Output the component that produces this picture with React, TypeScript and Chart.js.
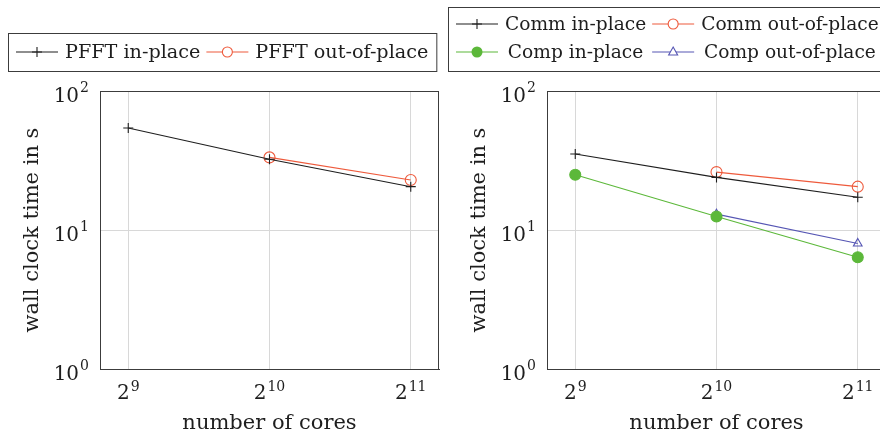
import React, { useEffect, useRef } from "react";
import { Chart, registerables } from "chart.js";

Chart.register(...registerables);

// ---------- data ----------
const coreCounts = [512, 1024, 2048];
const xTickBase = ["2", "2", "2"];
const xTickExp = ["9", "10", "11"];
const yTickValues = [1, 10, 100];
const yTickBase = ["10", "10", "10"];
const yTickExp = ["0", "1", "2"];

const pfftInPlace = [54.2, 32.3, 20.5];
const pfftOutOfPlace = [null, 33.3, 22.9];

const commInPlace = [35.2, 23.9, 17.2];
const commOutOfPlace = [null, 26.1, 20.5];
const compInPlace = [25.0, 12.5, 6.36];
const compOutOfPlace = [null, 13.0, 8.0];

const leftLabels = ["PFFT in-place", "PFFT out-of-place"];
const rightLabels = ["Comm in-place", "Comm out-of-place", "Comp in-place", "Comp out-of-place"];

// ---------- style ----------
const FONT = "'DejaVu Serif', serif";
const FS_TITLE = 21;
const FS_TICK = 20;
const FS_EXP = 14;
const BLACK = "#1e1e1e";
const RED = "#ee5a3c";
const GREEN = "#5cb83a";
const BLUE = "#5656b4";
const FRAME = "#3c3c3c";

type Marker = "cross" | "ring" | "dot" | "tri";

function toPoints(vals: (number | null)[]) {
  const pts: { x: number; y: number }[] = [];
  vals.forEach((v, i) => {
    if (v !== null) pts.push({ x: coreCounts[i], y: v });
  });
  return pts;
}

function makeDataset(label: string, vals: (number | null)[], color: string, marker: Marker) {
  const base: any = {
    label,
    data: toPoints(vals),
    borderColor: color,
    borderWidth: 1.1,
    pointBorderColor: color,
    pointBorderWidth: 1.1,
    marker,
  };
  if (marker === "cross") {
    base.pointStyle = "cross";
    base.pointRadius = 5;
    base.pointBackgroundColor = color;
  } else if (marker === "ring") {
    base.pointStyle = "circle";
    base.pointRadius = 5.5;
    base.pointBackgroundColor = "rgba(0,0,0,0)";
  } else if (marker === "dot") {
    base.pointStyle = "circle";
    base.pointRadius = 5.5;
    base.pointBackgroundColor = color;
  } else {
    base.pointStyle = "triangle";
    base.pointRadius = 5;
    base.pointBackgroundColor = "rgba(0,0,0,0)";
  }
  return base;
}

function drawMarker(ctx: CanvasRenderingContext2D, marker: Marker, x: number, y: number, color: string) {
  ctx.save();
  ctx.strokeStyle = color;
  ctx.fillStyle = color;
  ctx.lineWidth = 1.1;
  ctx.beginPath();
  if (marker === "cross") {
    ctx.moveTo(x - 5, y);
    ctx.lineTo(x + 5, y);
    ctx.moveTo(x, y - 5);
    ctx.lineTo(x, y + 5);
    ctx.stroke();
  } else if (marker === "ring") {
    ctx.fillStyle = "#ffffff";
    ctx.arc(x, y, 5, 0, Math.PI * 2);
    ctx.fill();
    ctx.stroke();
  } else if (marker === "dot") {
    ctx.arc(x, y, 5.5, 0, Math.PI * 2);
    ctx.fill();
  } else {
    ctx.fillStyle = "#ffffff";
    ctx.moveTo(x, y - 5);
    ctx.lineTo(x + 4.5, y + 3);
    ctx.lineTo(x - 4.5, y + 3);
    ctx.closePath();
    ctx.fill();
    ctx.stroke();
  }
  ctx.restore();
}

// legend in a framed box, drawn like a pgfplots legend
const boxLegend = {
  id: "boxLegend",
  afterDraw(chart: any) {
    const opts = chart.options.plugins.boxLegend;
    if (!opts) return;
    const ctx: CanvasRenderingContext2D = chart.ctx;
    const ds = chart.data.datasets;
    const rows: number[][] = opts.rows;
    const nCols = Math.max(...rows.map((r) => r.length));
    ctx.save();
    ctx.font = `${opts.fontSize}px ${FONT}`;
    const sample = 42;
    const gap = 7;
    const after = 6;
    const colW: number[] = [];
    for (let c = 0; c < nCols; c++) {
      let w = 0;
      rows.forEach((r) => {
        if (r[c] !== undefined) w = Math.max(w, ctx.measureText(ds[r[c]].label).width);
      });
      colW.push(w);
    }
    const pad = 8;
    let total = pad;
    colW.forEach((w, i) => {
      total += sample + gap + w + (i < nCols - 1 ? after : 0);
    });
    total += pad;
    const bx = opts.x;
    const by = opts.y;
    ctx.strokeStyle = FRAME;
    ctx.lineWidth = 1;
    ctx.strokeRect(bx + 0.5, by + 0.5, total, opts.h);
    rows.forEach((r, ri) => {
      const y = by + opts.firstRow + ri * opts.rowH;
      let x = bx + pad;
      r.forEach((di, ci) => {
        const d = ds[di];
        const color = d.borderColor;
        ctx.strokeStyle = color;
        ctx.lineWidth = 1.1;
        ctx.beginPath();
        ctx.moveTo(x, y);
        ctx.lineTo(x + sample, y);
        ctx.stroke();
        drawMarker(ctx, d.marker, x + sample / 2, y, color);
        const tw = ctx.measureText(d.label).width;
        ctx.fillStyle = BLACK;
        ctx.textBaseline = "middle";
        ctx.textAlign = "left";
        ctx.fillText(d.label, x + sample + gap + (colW[ci] - tw) / 2, y + 1);
        x += sample + gap + colW[ci] + after;
      });
    });
    ctx.restore();
  },
};

// full frame around the plot area plus tick labels with real superscripts
const frameAndTicks = {
  id: "frameAndTicks",
  afterDraw(chart: any) {
    const ctx: CanvasRenderingContext2D = chart.ctx;
    const { left, right, top, bottom } = chart.chartArea;
    ctx.save();
    ctx.strokeStyle = FRAME;
    ctx.lineWidth = 1;
    ctx.strokeRect(Math.round(left) + 0.5, Math.round(top) + 0.5, Math.round(right - left) - 1, Math.round(bottom - top));
    ctx.fillStyle = BLACK;
    ctx.textBaseline = "alphabetic";
    const xs = chart.scales.x;
    coreCounts.forEach((v, i) => {
      const px = xs.getPixelForValue(v);
      ctx.font = `${FS_TICK}px ${FONT}`;
      const wb = ctx.measureText(xTickBase[i]).width;
      ctx.font = `${FS_EXP}px ${FONT}`;
      const we = ctx.measureText(xTickExp[i]).width;
      const x0 = px - (wb + we + 1) / 2;
      const base = bottom + 30;
      ctx.font = `${FS_TICK}px ${FONT}`;
      ctx.textAlign = "left";
      ctx.fillText(xTickBase[i], x0, base);
      ctx.font = `${FS_EXP}px ${FONT}`;
      ctx.fillText(xTickExp[i], x0 + wb + 1, base - 8);
    });
    const ys = chart.scales.y;
    yTickValues.forEach((v, i) => {
      const py = ys.getPixelForValue(v);
      ctx.font = `${FS_EXP}px ${FONT}`;
      const we = ctx.measureText(yTickExp[i]).width;
      ctx.font = `${FS_TICK}px ${FONT}`;
      const wb = ctx.measureText(yTickBase[i]).width;
      const xr = left - 11;
      ctx.textAlign = "left";
      ctx.fillText(yTickBase[i], xr - we - 1 - wb, py + 11);
      ctx.font = `${FS_EXP}px ${FONT}`;
      ctx.fillText(yTickExp[i], xr - we, py + 1);
    });
    ctx.restore();
  },
};

function makeOptions(yAxisWidth: number, titlePad: number, legend: any) {
  return {
    animation: false,
    responsive: false,
    maintainAspectRatio: false,
    layout: { autoPadding: false, padding: { top: 91, left: 0, right: 1, bottom: 0 } },
    plugins: {
      legend: { display: false },
      tooltip: { enabled: false },
      boxLegend: legend,
    },
    scales: {
      x: {
        type: "logarithmic",
        min: Math.pow(2, 8.8),
        max: Math.pow(2, 11.2),
        afterBuildTicks: (s: any) => {
          s.ticks = coreCounts.map((v) => ({ value: v }));
        },
        afterFit: (s: any) => {
          s.height = 65;
          s.paddingLeft = 0;
          s.paddingRight = 0;
        },
        ticks: { display: false, autoSkip: false },
        grid: { color: "#d8d8d8", lineWidth: 1, drawTicks: false },
        border: { color: FRAME, width: 1 },
        title: {
          display: true,
          text: "number of cores",
          color: BLACK,
          font: { family: FONT, size: FS_TITLE },
          padding: { top: 0, bottom: -2 },
        },
      },
      y: {
        type: "logarithmic",
        min: 1,
        max: 100,
        afterBuildTicks: (s: any) => {
          s.ticks = yTickValues.map((v) => ({ value: v }));
        },
        afterFit: (s: any) => {
          s.width = yAxisWidth;
          s.paddingTop = 0;
          s.paddingBottom = 0;
        },
        ticks: { display: false, autoSkip: false },
        grid: { color: "#d8d8d8", lineWidth: 1, drawTicks: false },
        border: { color: FRAME, width: 1 },
        title: {
          display: true,
          text: "wall clock time in s",
          color: BLACK,
          font: { family: FONT, size: FS_TITLE },
          padding: { top: titlePad, bottom: 0 },
        },
      },
    },
  };
}

export default function App() {
  const leftRef = useRef<HTMLCanvasElement>(null);
  const rightRef = useRef<HTMLCanvasElement>(null);

  useEffect(() => {
    const left = new Chart(leftRef.current as HTMLCanvasElement, {
      type: "line",
      data: {
        datasets: [
          makeDataset(leftLabels[0], pfftInPlace, BLACK, "cross"),
          makeDataset(leftLabels[1], pfftOutOfPlace, RED, "ring"),
        ],
      },
      options: makeOptions(100, 20.4, {
        x: 8,
        y: 33,
        h: 38,
        firstRow: 19,
        rowH: 28,
        fontSize: 19.2,
        rows: [[0, 1]],
      }) as any,
      plugins: [boxLegend, frameAndTicks],
    });
    const right = new Chart(rightRef.current as HTMLCanvasElement, {
      type: "line",
      data: {
        datasets: [
          makeDataset(rightLabels[0], commInPlace, BLACK, "cross"),
          makeDataset(rightLabels[1], commOutOfPlace, RED, "ring"),
          makeDataset(rightLabels[2], compInPlace, GREEN, "dot"),
          makeDataset(rightLabels[3], compOutOfPlace, BLUE, "tri"),
        ],
      },
      options: makeOptions(107, 27.4, {
        x: 8,
        y: 7,
        h: 64,
        firstRow: 17,
        rowH: 28,
        fontSize: 18.6,
        rows: [
          [0, 1],
          [2, 3],
        ],
      }) as any,
      plugins: [boxLegend, frameAndTicks],
    });
    return () => {
      left.destroy();
      right.destroy();
    };
  }, []);

  return (
    <div
      style={{
        position: "absolute",
        left: 0,
        top: 0,
        width: 880,
        height: 434,
        overflow: "hidden",
        background: "#ffffff",
      }}
    >
      <canvas
        ref={leftRef}
        width={440}
        height={434}
        style={{ position: "absolute", left: 0, top: 0, width: 440, height: 434 }}
      />
      <canvas
        ref={rightRef}
        width={447}
        height={434}
        style={{ position: "absolute", left: 440, top: 0, width: 447, height: 434 }}
      />
    </div>
  );
}
